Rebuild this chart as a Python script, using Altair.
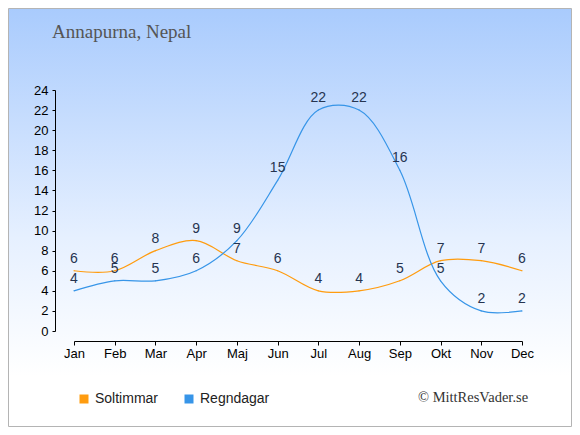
import altair as alt
import pandas as pd

months = ["Jan", "Feb", "Mar", "Apr", "Maj", "Jun", "Jul", "Aug", "Sep", "Okt", "Nov", "Dec"]
soltimmar = [6, 6, 8, 9, 7, 6, 4, 4, 5, 7, 7, 6]
regndagar = [4, 5, 5, 6, 9, 15, 22, 22, 16, 5, 2, 2]
series_names = ["Soltimmar", "Regndagar"]
series_colors = ["#ff9c0f", "#3795e8"]
y_ticks = list(range(0, 25, 2))
title_text = "Annapurna, Nepal"
credit_text = "\u00a9 MittResVader.se"

rows = []
for name, vals in zip(series_names, [soltimmar, regndagar]):
    for m, v in zip(months, vals):
        rows.append({"month": m, "series": name, "value": v})
df = pd.DataFrame(rows)

W, H = 448, 241
PL, PT, PR, PB = 66, 82, 50, 96

x_enc = alt.X("month:N", sort=months, title=None,
              scale=alt.Scale(type="point", padding=0, domain=months),
              axis=alt.Axis(offset=10, tickSize=4, labelPadding=2, labelAngle=0, zindex=1,
                            domainColor="#000", tickColor="#000", labelColor="#000",
                            labelFont="Liberation Sans", labelFontSize=13, grid=False))
y_enc = alt.Y("value:Q", title=None,
              scale=alt.Scale(domain=[0, 24], nice=False, zero=True),
              axis=alt.Axis(values=y_ticks, offset=19, tickSize=3, labelPadding=4, zindex=1,
                            domainColor="#000", tickColor="#000", labelColor="#000",
                            labelFont="Liberation Sans", labelFontSize=13, grid=False))

bg = alt.Chart(alt.Data(values=[{"k": 1}])).mark_rect(
    fill=alt.LinearGradient(
        gradient="linear",
        stops=[alt.GradientStop(color="#a9cbfd", offset=0),
               alt.GradientStop(color="#e6f0ff", offset=0.55),
               alt.GradientStop(color="#ffffff", offset=0.88),
               alt.GradientStop(color="#ffffff", offset=1)],
        x1=0, x2=0, y1=0, y2=1),
    stroke="#b4b4b4", strokeWidth=1,
).encode(x=alt.value(-PL + 0.5), x2=alt.value(W + PR - 0.5),
         y=alt.value(-PT + 0.5), y2=alt.value(H + PB - 0.5))

title = alt.Chart(alt.Data(values=[{"t": title_text}])).mark_text(
    font="Liberation Serif", fontSize=19, color="#555555", align="left", baseline="alphabetic"
).encode(x=alt.value(-22), y=alt.value(-52), text="t:N")

credit = alt.Chart(alt.Data(values=[{"t": credit_text}])).mark_text(
    font="Liberation Serif", fontSize=14.5, color="#333333", align="left", baseline="alphabetic"
).encode(x=alt.value(344), y=alt.value(312), text="t:N")

base = alt.Chart(df)

line_layers = [
    base.transform_filter(alt.datum.series == name)
    .mark_line(interpolate="catmull-rom", strokeWidth=1.2, color=col)
    .encode(x=x_enc, y=y_enc)
    for name, col in zip(series_names, series_colors)
]

legend_marks = base.mark_square(size=1, opacity=1, filled=True).encode(
    x=x_enc, y=y_enc,
    color=alt.Color("series:N", scale=alt.Scale(domain=series_names, range=series_colors),
                    legend=alt.Legend(orient="none", legendX=3, legendY=302, zindex=1,
                                      direction="horizontal", columns=2, title=None,
                                      symbolType="square", symbolSize=81, symbolStrokeWidth=0,
                                      symbolOpacity=1,
                                      labelFont="Liberation Sans", labelFontSize=14,
                                      labelColor="#222222", labelOffset=4,
                                      columnPadding=23, padding=0)),
)

labels = base.mark_text(dy=-8, baseline="alphabetic", align="center",
                        font="Liberation Sans", fontSize=14, color="#263450").encode(
    x=x_enc, y=y_enc, text="value:Q"
)

chart = alt.layer(bg, title, credit, *line_layers, legend_marks, labels).properties(
    width=W, height=H,
    autosize=alt.AutoSizeParams(type="none"),
    padding={"left": PL, "top": PT, "right": PR, "bottom": PB},
).configure_view(stroke=None)

chart.save("out.html", embed_options={"renderer": "svg", "actions": False})
